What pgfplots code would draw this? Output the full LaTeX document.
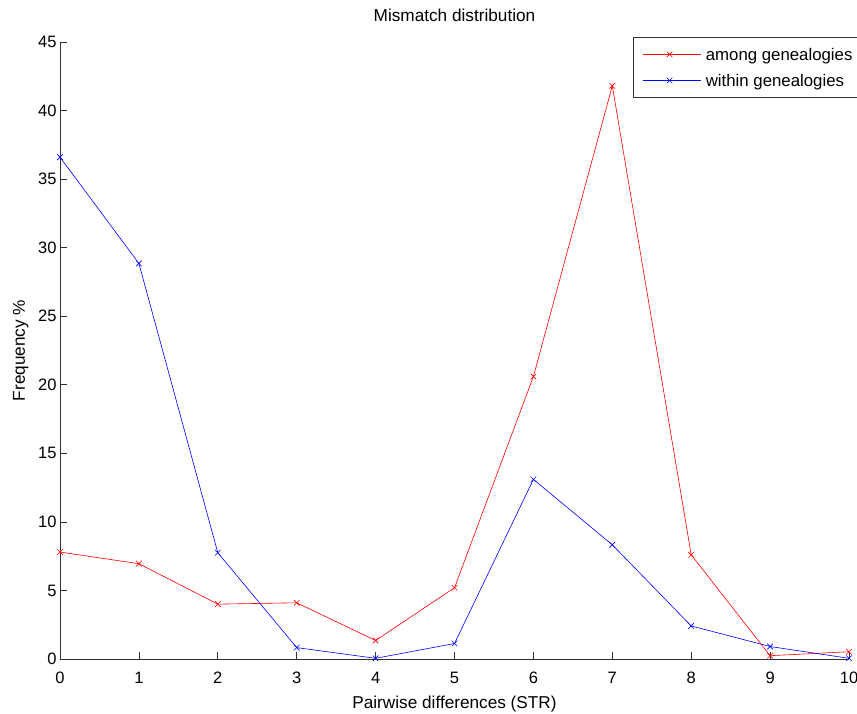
\documentclass[border=0pt]{standalone}
\usepackage{fontspec}
\setmainfont{Liberation Sans}
\usepackage{pgfplots}
\pgfplotsset{compat=1.18}
\begin{document}
\begin{tikzpicture}[x=1pt,y=1pt]
\path[use as bounding box] (-60,-55) rectangle (797,659);
\begin{axis}[
  at={(0,0)}, anchor=south west,
  scale only axis, width=789pt, height=617pt,
  xmin=0, xmax=10, ymin=0, ymax=45,
  xtick={0,...,10}, ytick={0,5,...,45},
  axis x line*=bottom, axis y line*=left,
  axis line style={-, black!80, line width=0.7pt},
  tick align=inside, major tick length=7pt,
  tick style={black!80, line width=0.7pt},
  /pgf/number format/assume math mode=true,
  ticklabel style={font=\fontsize{16.5}{19}\selectfont},
  xticklabel style={anchor=base, yshift=-25pt},
  title={Mismatch distribution},
  title style={font=\fontsize{17.2}{20}\selectfont, at={(axis description cs:0.5,1.0227)}, anchor=base},
  xlabel={Pairwise differences (STR)},
  ylabel={Frequency \%},
  label style={font=\fontsize{17.2}{20}\selectfont},
  xlabel style={at={(axis description cs:0.5,-0.081)}, anchor=base},
  ylabel style={at={(axis description cs:-0.0444,0.5)}, anchor=base},
  legend style={at={(axis description cs:0.7262,1.0081)}, anchor=north west, draw=black!80, line width=0.5pt,
    font=\fontsize{16.8}{20}\selectfont, row sep=10pt, column sep=0pt, inner xsep=9pt, inner ysep=9pt},
  legend cell align=left,
  legend image code/.code={\draw[#1] (0pt,0pt) -- (27pt,0pt) plot[only marks] coordinates {(27pt,0pt)} -- (55pt,0pt); \path (0pt,0pt) -- (58pt,0pt);},
  legend style={nodes={text depth=0pt}},
]
\addplot[red, line width=0.6pt, mark=x, mark size=4pt] coordinates {
(0,7.8) (1,6.95) (2,4.0) (3,4.1) (4,1.35) (5,5.2) (6,20.6) (7,41.8) (8,7.6) (9,0.24) (10,0.53)};
\addlegendentry{\hspace{3pt}among genealogies}
\addplot[blue, line width=0.6pt, mark=x, mark size=4pt] coordinates {
(0,36.6) (1,28.85) (2,7.75) (3,0.83) (4,0.05) (5,1.13) (6,13.1) (7,8.33) (8,2.41) (9,0.91) (10,0.05)};
\addlegendentry{\hspace{3pt}within genealogies}
\end{axis}
\end{tikzpicture}
\end{document}
